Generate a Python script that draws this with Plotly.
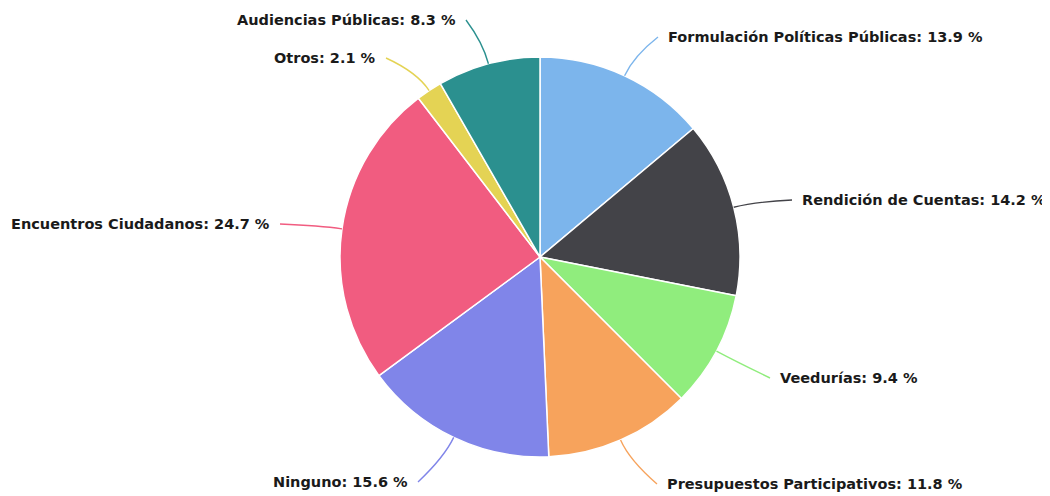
import math
import plotly.graph_objects as go

categories = ["Formulación Políticas Públicas", "Rendición de Cuentas", "Veedurías",
              "Presupuestos Participativos", "Ninguno", "Encuentros Ciudadanos",
              "Otros", "Audiencias Públicas"]
values = [13.9, 14.2, 9.4, 11.8, 15.6, 24.7, 2.1, 8.3]
colors = ["#7cb5ec", "#434348", "#90ed7d", "#f7a35c", "#8085e9", "#f15c80", "#e4d354", "#2b908f"]

# layout (page pixels) for label anchors: (x, y, side)
label_pos = [(666, 37, "left"), (800, 200, "left"), (778, 378, "left"), (665, 484, "left"),
             (410, 482, "right"), (272, 224, "right"), (378, 58, "right"), (458, 20, "right")]

W, H = 1050, 496
OFF = 8  # default body margin of the html page
CX, CY, R = 540 - OFF, 257 - OFF, 200

fig = go.Figure(go.Pie(
    labels=categories, values=values, sort=False, direction="clockwise", rotation=0,
    marker=dict(colors=colors, line=dict(color="white", width=1.5)),
    textinfo="none", hoverinfo="label+percent", showlegend=False,
    domain=dict(x=[(CX - R) / W, (CX + R) / W], y=[(H - CY - R) / H, (H - CY + R) / H]),
))

def px(x, y):
    return x / W, 1 - y / H

total = sum(values)
cum = 0
shapes, annotations = [], []
for cat, v, col, (lx, ly, side) in zip(categories, values, colors, label_pos):
    lx, ly = lx - OFF, ly - OFF
    mid = (cum + v / 2) / total * 2 * math.pi
    cum += v
    ex, ey = CX + R * math.sin(mid), CY - R * math.cos(mid)
    cx_, cy_ = CX + (R + 22) * math.sin(mid), CY - (R + 22) * math.cos(mid)
    endx = lx - 8 if side == "left" else lx + 8
    p0, p1, p2 = px(ex, ey), px(cx_, cy_), px(endx, ly)
    shapes.append(dict(type="path", xref="paper", yref="paper",
                       path=f"M {p0[0]},{p0[1]} Q {p1[0]},{p1[1]} {p2[0]},{p2[1]}",
                       line=dict(color=col, width=1.4)))
    ax, ay = px(lx, ly)
    annotations.append(dict(x=ax, y=ay, xref="paper", yref="paper", showarrow=False,
                            text=f"<b>{cat}: {v} %</b>", xanchor=side, yanchor="middle",
                            font=dict(family="DejaVu Sans", size=14.5, color="#1a1a1a")))

fig.update_layout(width=W, height=H, margin=dict(l=0, r=0, t=0, b=0),
                  paper_bgcolor="white", plot_bgcolor="white",
                  shapes=shapes, annotations=annotations)
fig.write_html("out.html")
